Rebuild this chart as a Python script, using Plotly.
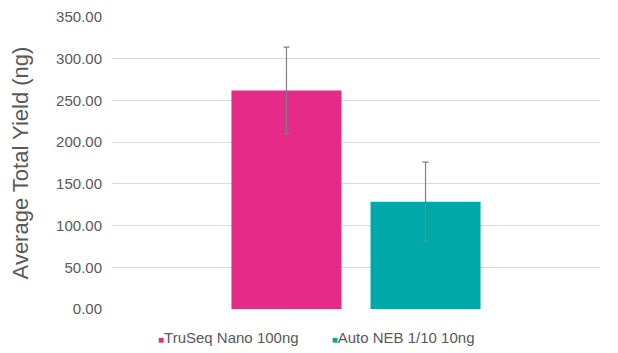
import plotly.graph_objects as go

categories = ["Yield"]
series_names = ["TruSeq Nano 100ng", "Auto NEB 1/10 10ng"]
values = [262.0, 128.5]
errors = [52.0, 47.5]
colors = ["#E62A87", "#00A9A9"]
tick_vals = [0, 50, 100, 150, 200, 250, 300, 350]
tick_text = ["0.00", "50.00", "100.00", "150.00", "200.00", "250.00", "300.00", "350.00"]

fig = go.Figure()
for name, v, e, c in zip(series_names, values, errors, colors):
    fig.add_trace(go.Bar(
        x=categories, y=[v], name=name, showlegend=False,
        marker=dict(color=c, line=dict(width=0)),
        error_y=dict(type="data", array=[e], visible=True, color="#7f7f7f", thickness=1.2, width=3),
    ))
# legend entries: small coloured square glyph right next to the label
legend_ids = ["legend", "legend2"]
for name, c, lid in zip(series_names, colors, legend_ids):
    fig.add_trace(go.Scatter(
        x=[None], y=[None], mode="markers", legend=lid,
        marker=dict(color="rgba(0,0,0,0)", size=0, line=dict(width=0)),
        name=f"<span style='color:{c};font-size:10px'>■</span>{name}",
    ))

legend_style = dict(orientation="h", xanchor="left", y=-0.096, yanchor="middle",
                    font=dict(size=15, color="#595959"), bgcolor="rgba(0,0,0,0)")

fig.update_layout(
    width=618, height=353,
    margin=dict(l=112, r=18, t=17, b=44, autoexpand=False),
    paper_bgcolor="white", plot_bgcolor="white",
    barmode="group", bargap=0.43, bargroupgap=0.209,
    font=dict(family="Liberation Sans, Arial, sans-serif", color="#595959"),
    showlegend=True,
    legend=dict(x=0.0123, **legend_style),
    legend2=dict(x=0.3682, **legend_style),
    xaxis=dict(showticklabels=False, showgrid=False, zeroline=False, showline=False),
    yaxis=dict(range=[0, 350], tickvals=tick_vals, ticktext=tick_text,
               tickfont=dict(size=15, color="#595959"),
               showgrid=True, gridcolor="#d9d9d9", gridwidth=1, zeroline=False,
               ticks="", ticklabelstandoff=9, automargin=False,
               title=dict(text="Average Total Yield (ng)", font=dict(size=22, color="#595959"), standoff=21)),
)

fig.write_html("out.html")
